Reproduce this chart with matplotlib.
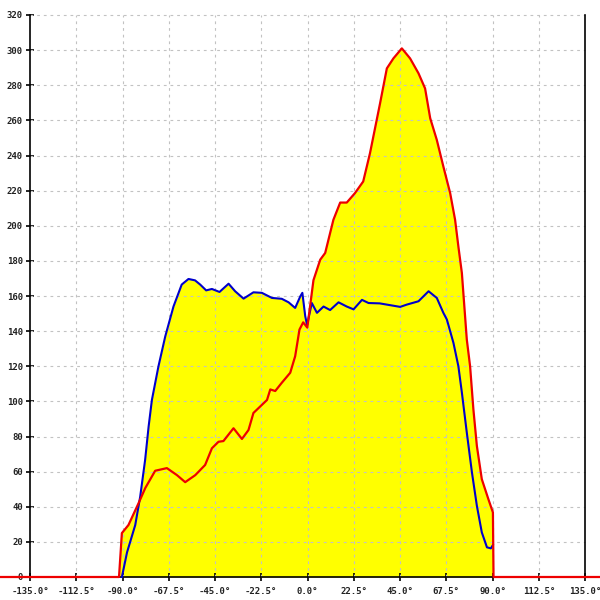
import numpy as np
import matplotlib
matplotlib.use("Agg")
import matplotlib.pyplot as plt

# angle (deg) / value pairs
red_x = [-150, -91.7, -90.3, -87.1, -82.2, -78.9, -74.1, -68.4, -63.5, -59.5, -54.6, -49.8,
         -46.5, -43.3, -40.9, -36.0, -31.9, -28.7, -26.3, -23.8, -19.7, -18.1, -15.7, -12.5,
         -8.4, -6.0, -3.9, -2.1, -0.1, 2.9, 6.2, 8.6, 12.6, 15.9, 19.1, 23.1, 27.1, 30.4,
         35.3, 38.6, 41.8, 45.9, 49.9, 54.0, 57.2, 59.7, 62.9, 66.1, 69.4, 71.8, 73.4, 75.1,
         77.5, 79.1, 80.7, 82.4, 84.8, 88.0, 90.2, 90.5, 145]
red_y = [0, 0, 25, 29.6, 42, 50.7, 60.5, 62, 58, 54, 58, 63.8,
         73.3, 77, 77.4, 84.7, 78.6, 83.7, 93.4, 96.2, 100.8, 106.8, 105.9, 110.6,
         116.3, 125.7, 140.9, 145, 142, 169, 180.7, 184.5, 203.4, 213.2, 213.2, 218.6, 225.2, 241.3,
         269.7, 289.6, 295.3, 301, 295.3, 286.8, 278.2, 261.2, 248.9, 233.7, 218.6, 203.4, 188.2, 173.1,
         135.2, 120, 95.5, 74.6, 55.7, 44.3, 36.8, 0, 0]

blue_x = [-90.3, -87.8, -83.8, -81.4, -79.0, -77.3, -75.7, -72.5, -69.2, -65.2, -61.2, -57.9,
          -54.7, -52.2, -49.3, -46.5, -42.8, -38.4, -35.2, -31.1, -26.3, -22.2, -17.3, -12.5,
          -9.2, -6.0, -3.5, -2.5, -1.1, -0.2, 2.1, 4.6, 7.8, 11.0, 15.1, 19.1, 22.4, 26.5, 29.7,
          35.1, 38.6, 45.1, 48.3, 54.0, 58.9, 62.9, 66.1, 67.8, 71.0, 73.4, 75.1, 77.5, 80.0,
          82.4, 84.8, 87.3, 89.2, 90.2]
blue_y = [0, 14, 29.6, 45.7, 66.6, 85.6, 100.8, 120, 137, 154, 166.5, 169.7,
          168.9, 166.5, 163.2, 164, 162.3, 167, 162.7, 158.5, 162.1, 161.8, 158.9, 158.4,
          156.4, 153.2, 159.8, 161.8, 148.5, 143.5, 156, 150.4, 154, 152, 156.4, 154, 152.4, 157.8, 156,
          155.8, 155.1, 153.8, 155.1, 157, 162.7, 158.9, 150.4, 146.6, 133.3, 120, 105, 82.2, 59.5,
          40.5, 25.4, 16.9, 16.3, 18.2]

xticks = np.arange(-135, 135.1, 22.5)
yticks = np.arange(0, 321, 20)

fig = plt.figure(figsize=(6, 6), dpi=100)
ax = fig.add_axes([0, 0, 1, 1])

ppx = 555 / 270.0
ppy = 562 / 320.0
ax.set_xlim(-135 - 30 / ppx, -135 - 30 / ppx + 600 / ppx)
ax.set_ylim(-23 / ppy, -23 / ppy + 600 / ppy)

ax.fill_between(red_x, red_y, 0, color="#ffff00", lw=0, zorder=1)
ax.fill_between(blue_x, blue_y, 0, color="#ffff00", lw=0, zorder=1)

# grid only inside the plot box
ax.hlines(yticks[1:], -135, 135, colors="#c2c2c2", linestyles=(0, (2.5, 3.5)), lw=0.8, zorder=2)
ax.vlines(xticks[1:-1], 0, 320, colors="#c2c2c2", linestyles=(0, (2.5, 3.5)), lw=0.8, zorder=2)

ax.plot(blue_x, blue_y, color="#0000cc", lw=1.5, zorder=4)
ax.plot(red_x, red_y, color="#ee0000", lw=1.6, zorder=5)

ax.spines["top"].set_visible(False)
ax.spines["left"].set_position(("data", -135))
ax.spines["left"].set_bounds(0, 320)
ax.spines["right"].set_position(("data", 135))
ax.spines["right"].set_bounds(0, 320)
ax.spines["bottom"].set_position(("data", 0))
ax.spines["bottom"].set_bounds(-135, 135)
for s in ["left", "right", "bottom"]:
    ax.spines[s].set_linewidth(1.2)
    ax.spines[s].set_zorder(3)

ax.set_xticks(xticks)
ax.set_xticklabels([f"{v:.1f}°" for v in xticks])
ax.set_yticks(yticks)
ax.set_yticklabels([str(v) for v in yticks])
ax.tick_params(axis="both", direction="inout", length=6, width=1.2, labelsize=6.5, pad=2)
ax.tick_params(axis="y", right=False)
ax.tick_params(axis="x", pad=4.5)
for lab in ax.get_xticklabels() + ax.get_yticklabels():
    lab.set_family("DejaVu Sans Mono")
    lab.set_fontweight("bold")
    lab.set_color("#222222")

fig.savefig("out.png", dpi=100)
